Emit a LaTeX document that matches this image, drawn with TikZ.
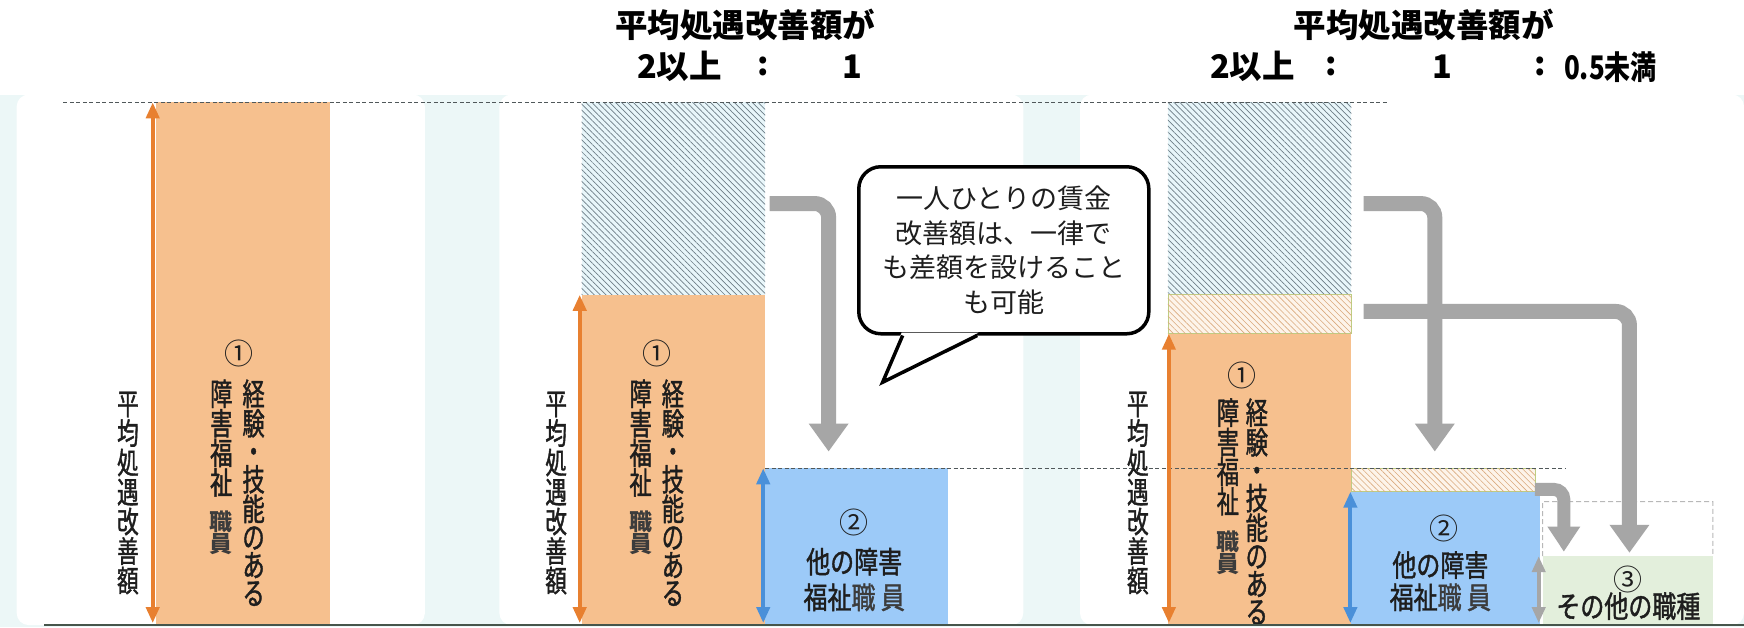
\documentclass[tikz,border=0pt]{standalone}
\usepackage{fontspec}
\setmainfont{Noto Sans CJK JP}
\newfontfamily\jpc{Noto Sans CJK JP}[FakeStretch=0.8,FakeBold=1.3]
\newfontfamily\jpv{Noto Sans CJK JP}[FakeStretch=0.72,FakeBold=1.3]
\usetikzlibrary{arrows.meta,patterns.meta,fit,calc}
\definecolor{bgband}{RGB}{236,247,247}
\definecolor{obarc}{RGB}{246,192,142}
\definecolor{oarrc}{RGB}{232,128,48}
\definecolor{bbarc}{RGB}{156,202,248}
\definecolor{barrc}{RGB}{74,144,217}
\definecolor{gbarc}{RGB}{227,239,220}
\definecolor{garrc}{RGB}{166,166,166}
\definecolor{hblue}{RGB}{232,246,250}
\definecolor{hline}{RGB}{110,125,135}
\definecolor{hbeige}{RGB}{253,244,234}
\definecolor{hbline}{RGB}{218,170,125}
\definecolor{hgreen}{RGB}{190,205,130}
\definecolor{dashc}{RGB}{80,88,90}
\definecolor{txtc}{RGB}{30,30,30}
\definecolor{smallc}{RGB}{60,60,60}
\definecolor{basec}{RGB}{70,85,75}
\tikzset{
  box/.style={inner sep=0pt, outer sep=0pt},
  obar/.style={box, fill=obarc},
  bbar/.style={box, fill=bbarc},
  gbar/.style={box, fill=gbarc},
  hatchb/.style={box, fill=hblue, postaction={pattern={Lines[angle=-45,distance=4.2pt,line width=0.7pt]}, pattern color=hline}},
  hatcho/.style={box, fill=hbeige, draw=hgreen, line width=0.6pt, postaction={pattern={Lines[angle=-45,distance=4.2pt,line width=0.6pt]}, pattern color=hbline}},
  dline/.style={draw=dashc, line width=1.3pt, dash pattern=on 4pt off 2.5pt},
  lline/.style={draw=garrc!80, line width=1pt, dash pattern=on 5pt off 3pt},
  garr/.style={draw=garrc, line width=15pt, rounded corners=14pt, -{Triangle[width=38pt,length=28pt]}},
  garrs/.style={draw=garrc, line width=13pt, rounded corners=10pt, -{Triangle[width=31pt,length=25pt]}},
  darr/.style={line width=4pt, {Triangle[width=13pt,length=16pt]}-{Triangle[width=13pt,length=16pt]}},
  vt/.style={font=\jpv\fontsize{31}{28}\selectfont, align=center, inner sep=0pt, text=txtc, anchor=north},
  vlab/.style={font=\jpv\fontsize{30}{29.5}\selectfont, align=center, inner sep=0pt, text=txtc, anchor=north},
  vsm/.style={font=\bfseries\fontsize{23}{22}\selectfont, align=center, inner sep=0pt, text=smallc, anchor=north},
  num/.style={font=\fontsize{29}{30}\selectfont, inner sep=0pt, text=txtc},
  btxt/.style={font=\jpc\fontsize{30}{31}\selectfont, inner sep=0pt, text=txtc},
  ttl/.style={font=\bfseries\fontsize{32.5}{34}\selectfont, inner sep=0pt, text=black},
}
\begin{document}
\begin{tikzpicture}[x=1.1122pt,y=-1.1122pt]
\useasboundingbox (0,0) rectangle (1568,564);
% background
\fill[white] (0,0) rectangle (1568,564);
\fill[bgband] (0,85) rectangle (1568,564);
\fill[white, rounded corners=12pt] (15,85) rectangle (382,562);
\fill[white, rounded corners=12pt] (449,85) rectangle (920,562);
\fill[white, rounded corners=12pt] (971,85) rectangle (1568,562);

% titles
\node[ttl] (t1) at (670,22) {平均処遇改善額が};
\node[ttl] (t1a) at (611,60) {2以上};
\node[ttl] (t1b) at (686,60) {:};
\node[ttl] (t1c) at (766,60) {1};
\node[ttl] (t2) at (1280,22) {平均処遇改善額が};
\node[ttl] (t2a) at (1126,60) {2以上};
\node[ttl] (t2b) at (1197,60) {:};
\node[ttl] (t2c) at (1297,60) {1};
\node[ttl] (t2d) at (1385,60) {:};
\node[ttl] (t2e) at (1448,60) {\scalebox{0.8}[1]{0.5未満}};

% panel 1
\node[obar, fit={(140,92)(297,562)}] (b1) {};
% panel 2
\node[hatchb, fit={(523,92)(688,265)}] (h2) {};
\node[obar, fit={(523,265)(688,562)}] (b2) {};
\node[bbar, fit={(688,421)(852,562)}] (c2) {};
% panel 3
\node[hatchb, fit={(1050,92)(1215,265)}] (h3) {};
\node[hatcho, fit={(1050,265)(1215,300)}] (k3) {};
\node[obar, fit={(1050,300)(1215,562)}] (b3) {};
\node[hatcho, fit={(1215,421)(1380,442)}] (k4) {};
\node[bbar, fit={(1215,442)(1385,562)}] (c3) {};
\node[gbar, fit={(1387,500)(1540,562)}] (g3) {};
\draw[lline] (g3.north west) -- (1387,451) -- (1540,451) -- (g3.north east);

% dashed lines
\coordinate (dA) at (57,92);
\coordinate (dB) at (1248,92);
\draw[dline] (dA) -- (dB);
\coordinate (dC) at (688,421);
\coordinate (dD) at (1408,421);
\draw[dline] (dC) -- (dD);

% baseline
\coordinate (bl) at (40,562);
\coordinate (br) at (1568,562);
\draw[draw=basec, line width=2.5pt] (bl) -- (br);

% double arrows
\draw[darr, draw=oarrc, color=oarrc] ([xshift=-3pt]b1.north west) -- ([xshift=-3pt, yshift=2pt]b1.south west);
\draw[darr, draw=oarrc, color=oarrc] ([xshift=-2pt]b2.north west) -- ([xshift=-2pt, yshift=2pt]b2.south west);
\draw[darr, draw=barrc, color=barrc] ([xshift=-2pt]c2.north west) -- ([xshift=-2pt, yshift=2pt]c2.south west);
\draw[darr, draw=oarrc, color=oarrc] ([xshift=1pt]b3.north west) -- ([xshift=1pt, yshift=2pt]b3.south west);
\draw[darr, draw=barrc, color=barrc] ([xshift=-1pt]c3.north west) -- ([xshift=-1pt, yshift=2pt]c3.south west);
\draw[darr, draw=garrc, color=garrc] ([xshift=-4pt]g3.north west) -- ([xshift=-4pt, yshift=2pt]g3.south west);

% gray bent arrows
\coordinate (p2s) at (692,183);
\coordinate (p2c) at (745,183);
\coordinate (p2e) at (745,406);
\draw[garr] (p2s) -- (p2c) -- (p2e);
\coordinate (p3bs) at (1226,280);
\coordinate (p3bc) at (1465,280);
\coordinate (p3be) at (1465,497);
\draw[garr] (p3bs) -- (p3bc) -- (p3be);
\coordinate (p3as) at (1226,183);
\coordinate (p3ac) at (1290,183);
\coordinate (p3ae) at (1290,406);
\draw[garr] (p3as) -- (p3ac) -- (p3ae);
\coordinate (p3ss) at (1380,440);
\coordinate (p3sc) at (1406,440);
\coordinate (p3se) at (1406,496);
\draw[garrs] (p3ss) -- (p3sc) -- (p3se);

% panel 1 texts
\node[vlab] (l1) at (115,352) {平\\均\\処\\遇\\改\\善\\額};
\node[num] (n1) at (215,318) {①};
\node[vt] (r1) at (228,341) {経\\験\\・\\技\\能\\の\\あ\\る};
\node[vt] (s1) at (199,341) {障\\害\\福\\祉};
\node[vsm] (m1) at (199,459) {職\\員};
% panel 2 texts
\node[vlab] (l2) at (500,352) {平\\均\\処\\遇\\改\\善\\額};
\node[num] (n2) at (591,318) {①};
\node[vt] (r2) at (605,341) {経\\験\\・\\技\\能\\の\\あ\\る};
\node[vt] (s2) at (576,341) {障\\害\\福\\祉};
\node[vsm] (m2) at (576,459) {職\\員};
\node[num] (q2) at (768,470) {②};
\node[btxt] (q2a) at (768,505) {他の障害};
\node[btxt] (q2b) at (768,537) {福祉\textcolor{smallc}{職 員}};
% panel 3 texts
\node[vlab] (l3) at (1023,352) {平\\均\\処\\遇\\改\\善\\額};
\node[num] (n3) at (1117,338) {①};
\begin{scope}
\clip (1040,300) rectangle (1215,561);
\node[vt] (r3) at (1130,358) {経\\験\\・\\技\\能\\の\\あ\\る};
\end{scope}
\node[vt] (s3) at (1104,358) {障\\害\\福\\祉};
\node[vsm] (m3) at (1104,477) {職\\員};
\node[num] (q3) at (1298,475) {②};
\node[btxt] (q3a) at (1295,508) {他の障害};
\node[btxt] (q3b) at (1295,537) {福祉\textcolor{smallc}{職 員}};
\node[num] (o3) at (1464,521) {③};
\node[btxt] (o3a) at (1464,545) {その他の職種};

% speech bubble
\node[draw=black, fill=white, line width=3.5pt, rounded corners=22pt,
      minimum width=290pt, minimum height=167pt, align=center,
      font=\fontsize{27}{34.5}\selectfont, text=txtc] (bubble) at (902.5,225)
  {一人ひとりの賃金\\改善額は、一律で\\も差額を設けること\\も可能};
\coordinate (tl) at ($(bubble.south west)+(41,0)$);
\coordinate (tt) at ($(bubble.south west)+(23,42)$);
\coordinate (tr) at ($(bubble.south west)+(108,0)$);
\fill[white] ($(tl)+(-1,-2.5)$) -- (tt) -- ($(tr)+(1,-2.5)$) -- cycle;
\draw[line width=3.5pt, line join=miter, miter limit=10] (tl) -- (tt) -- (tr);
\end{tikzpicture}
\end{document}
